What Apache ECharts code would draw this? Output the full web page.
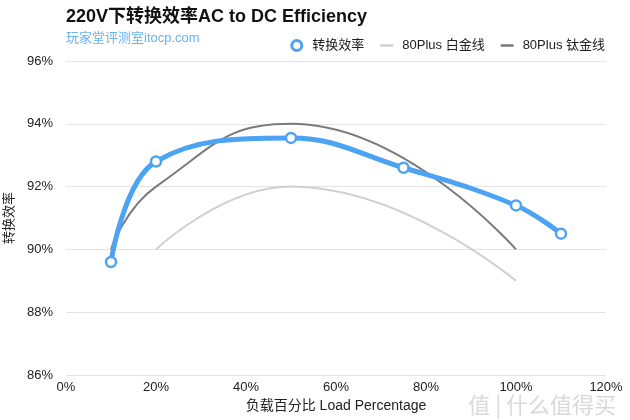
<!DOCTYPE html>
<html><head><meta charset="utf-8">
<script src="https://cdn.jsdelivr.net/npm/echarts@6/dist/echarts.min.js"></script>
<style>html,body{margin:0;padding:0;background:#fff}#c{width:630px;height:420px}</style>
</head><body><div id="c"></div>
<script>
var seriesNames = ['转换效率', '80Plus 白金线', '80Plus 钛金线'];
var effLoad = [10, 20, 50, 75, 100, 110];
var effValues = [89.6, 92.8, 93.55, 92.6, 91.4, 90.5];
var platLoad = [20, 50, 100];
var platValues = [90, 92, 89];
var titLoad = [10, 20, 50, 100];
var titValues = [90, 92, 94, 90];
var xTicks = [0, 20, 40, 60, 80, 100, 120];
var yTicks = [86, 88, 90, 92, 94, 96];

function pairs(xs, ys){ return xs.map(function(x,i){return [x, ys[i]];}); }
var FONT = '"Liberation Sans", "Noto Sans CJK SC", sans-serif';
var LINEICON = 'path://M0,0 L13,0 L13,2.5 L0,2.5 Z';
var chart = echarts.init(document.getElementById('c'), null, {renderer:'canvas'});
chart.setOption({
  animation:false,
  textStyle:{fontFamily:FONT},
  title:{text:'220V下转换效率AC to DC Efficiency', subtext:'玩家堂评测室itocp.com', left:61, top:3,
    textStyle:{fontSize:18, fontWeight:'bold', color:'#111', fontFamily:FONT},
    subtextStyle:{fontSize:13, color:'#6cb2ea', fontFamily:FONT}, itemGap:6},
  legend:{right:20, top:34, itemWidth:13, itemHeight:10, itemGap:16,
    textStyle:{fontSize:13, color:'#222', fontFamily:FONT, padding:[0,0,0,4]},
    data:[{name:seriesNames[0], icon:'circle', itemStyle:{color:'#fff', borderColor:'#4da3f3', borderWidth:3}},
          {name:seriesNames[1], icon:LINEICON, itemStyle:{color:'#d0d0d0'}},
          {name:seriesNames[2], icon:LINEICON, itemStyle:{color:'#7a7a7a'}}]},
  grid:{left:66, right:24, top:61, bottom:45, containLabel:false, outerBoundsMode:'none'},
  xAxis:{type:'value', min:0, max:120, interval:20, name:'负载百分比 Load Percentage', nameLocation:'middle', nameGap:24,
    nameTextStyle:{fontSize:14, color:'#222'},
    axisLine:{show:false}, axisTick:{show:false}, splitLine:{show:false},
    axisLabel:{formatter:'{value}%', color:'#222', fontSize:13, margin:6}},
  yAxis:{type:'value', min:86, max:96, interval:2, name:'转换效率', nameLocation:'middle', nameGap:45, nameRotate:90,
    nameTextStyle:{fontSize:13, color:'#222'},
    axisLine:{show:false}, axisTick:{show:false},
    splitLine:{lineStyle:{color:'#e3e3e3'}},
    axisLabel:{formatter:'{value}%', color:'#222', fontSize:13, margin:13}},
  graphic:[{type:'text', right:14, bottom:4, style:{text:'值 | 什么值得买', fill:'rgba(180,180,180,0.5)', fontSize:22, fontFamily:'"Noto Sans CJK SC", sans-serif'}}],
  series:[
    {name:seriesNames[1], type:'line', smooth:0.5, showSymbol:false, data:pairs(platLoad, platValues),
      lineStyle:{color:'#d0d0d0', width:2}, itemStyle:{color:'#d0d0d0'}, z:1},
    {name:seriesNames[2], type:'line', smooth:0.5, showSymbol:false, data:pairs(titLoad, titValues),
      lineStyle:{color:'#7a7a7a', width:2}, itemStyle:{color:'#7a7a7a'}, z:2},
    {name:seriesNames[0], type:'line', smooth:0.4, symbol:'circle', symbolSize:10, data:pairs(effLoad, effValues),
      lineStyle:{color:'#4da3f3', width:5}, itemStyle:{color:'#fff', borderColor:'#4da3f3', borderWidth:2.5}, z:3}
  ]
});
</script></body></html>
